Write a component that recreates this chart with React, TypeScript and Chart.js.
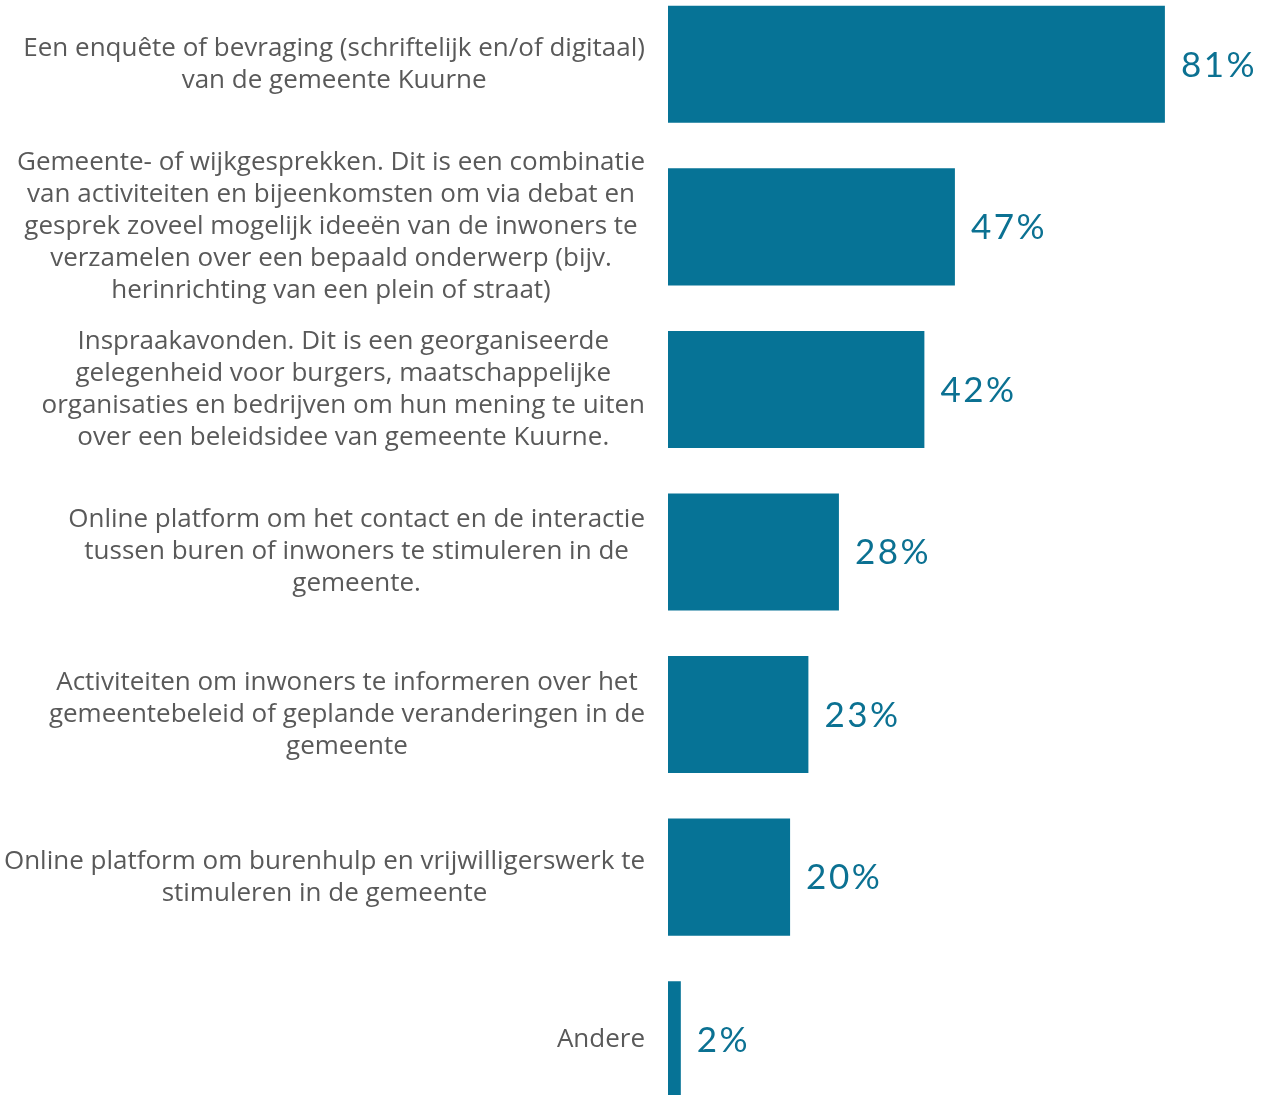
import React, { useEffect, useRef } from "react";
import { Chart, registerables } from "chart.js";

Chart.register(...registerables);

const categories: string[][] = [
  ["Een enquête of bevraging (schriftelijk en/of digitaal)", "van de gemeente Kuurne"],
  [
    "Gemeente- of wijkgesprekken. Dit is een combinatie",
    "van activiteiten en bijeenkomsten om via debat en",
    "gesprek zoveel mogelijk ideeën van de inwoners te",
    "verzamelen over een bepaald onderwerp (bijv.",
    "herinrichting van een plein of straat)",
  ],
  [
    "Inspraakavonden. Dit is een georganiseerde",
    "gelegenheid voor burgers, maatschappelijke",
    "organisaties en bedrijven om hun mening te uiten",
    "over een beleidsidee van gemeente Kuurne.",
  ],
  [
    "Online platform om het contact en de interactie",
    "tussen buren of inwoners te stimuleren in de",
    "gemeente.",
  ],
  [
    "Activiteiten om inwoners te informeren over het",
    "gemeentebeleid of geplande veranderingen in de",
    "gemeente",
  ],
  ["Online platform om burenhulp en vrijwilligerswerk te", "stimuleren in de gemeente"],
  ["Andere"],
];

const values: number[] = [81.4, 47, 42, 28, 23, 20, 2.1];
const valueLabels: string[] = ["81%", "47%", "42%", "28%", "23%", "20%", "2%"];

const BAR_COLOR = "#067396";
const LABEL_COLOR = "#595959";
const VALUE_COLOR = "#0B7192";

const labelPlugin = {
  id: "customLabels",
  afterDatasetsDraw(chart: any) {
    const { ctx } = chart;
    const yScale = chart.scales.y;
    const meta = chart.getDatasetMeta(0);
    const labelRight = chart.chartArea.left - 23;
    ctx.save();
    ctx.font = "26px 'Open Sans'";
    ctx.fillStyle = LABEL_COLOR;
    ctx.textAlign = "center";
    ctx.textBaseline = "middle";
    const lineH = 32;
    categories.forEach((lines, i) => {
      const cy = yScale.getPixelForValue(i);
      const widest = Math.max(...lines.map((l) => ctx.measureText(l).width));
      const cx = labelRight - widest / 2;
      const startY = cy - ((lines.length - 1) * lineH) / 2;
      lines.forEach((l, j) => ctx.fillText(l, cx, startY + j * lineH));
    });
    ctx.font = "35px Lato";
    (ctx as any).letterSpacing = "2.5px";
    ctx.fillStyle = VALUE_COLOR;
    ctx.textAlign = "left";
    meta.data.forEach((bar: any, i: number) => {
      ctx.fillText(valueLabels[i], bar.x + 16, bar.y + 1);
    });
    ctx.restore();
  },
};

export default function App() {
  const ref = useRef<HTMLCanvasElement | null>(null);
  useEffect(() => {
    if (!ref.current) return;
    const chart = new Chart(ref.current, {
      type: "bar",
      data: {
        labels: categories.map((c) => c.join(" ")),
        datasets: [
          {
            data: values,
            backgroundColor: BAR_COLOR,
            borderWidth: 0,
            categoryPercentage: 1,
            barPercentage: 0.72,
          },
        ],
      },
      options: {
        indexAxis: "y",
        animation: false,
        responsive: false,
        maintainAspectRatio: false,
        layout: { padding: 0 },
        plugins: { legend: { display: false }, tooltip: { enabled: false } },
        scales: {
          x: { display: false, min: 0, max: 99.6 },
          y: {
            grid: { display: false },
            border: { display: false },
            ticks: { display: false },
            afterFit(scale: any) {
              scale.width = 668;
            },
          },
        },
      },
      plugins: [labelPlugin],
    });
    return () => chart.destroy();
  }, []);
  return (
    <div
      style={{
        position: "absolute",
        left: 0,
        top: 0,
        width: 1276,
        height: 1095,
        overflow: "hidden",
        background: "#fff",
      }}
    >
      <div style={{ position: "absolute", left: 0, top: -17, width: 1276, height: 1138 }}>
        <canvas ref={ref} width={1276} height={1138} />
      </div>
    </div>
  );
}
